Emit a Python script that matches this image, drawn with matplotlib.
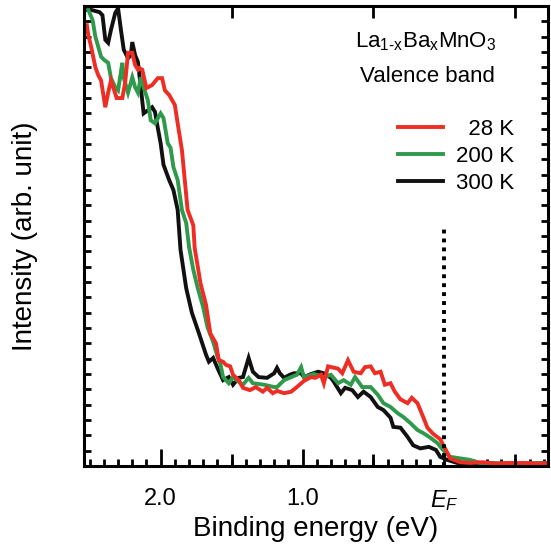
import matplotlib
matplotlib.use("Agg")
import matplotlib.pyplot as plt
from matplotlib.ticker import MultipleLocator, FixedLocator, NullFormatter

plt.rcParams['font.family'] = ['Liberation Sans', 'DejaVu Sans']
plt.rcParams['mathtext.fontset'] = 'custom'
plt.rcParams['mathtext.rm'] = 'Liberation Sans'
plt.rcParams['mathtext.it'] = 'Liberation Sans:italic'

# ---------------- data (binding energy in eV, intensity in arb. unit) -------------
e_300 = [2.52, 2.49, 2.43, 2.41, 2.39, 2.37, 2.35, 2.32, 2.30, 2.28, 2.26, 2.23, 2.21, 2.20,
         2.18, 2.16, 2.14, 2.12, 2.09, 2.06, 2.04, 2.02, 2.00, 1.98, 1.94, 1.91, 1.88, 1.86,
         1.82, 1.78, 1.73, 1.68, 1.66, 1.63, 1.60, 1.56, 1.52, 1.49, 1.45, 1.42, 1.38, 1.35,
         1.31, 1.25, 1.20, 1.18, 1.16, 1.13, 1.09, 1.06, 1.01, 0.99, 0.94, 0.89, 0.85, 0.80,
         0.78, 0.73, 0.70, 0.65, 0.61, 0.57, 0.52, 0.47, 0.43, 0.38, 0.36, 0.31, 0.26, 0.22,
         0.17, 0.11, 0.06, 0.03, -0.02, -0.09, -0.18, -0.29, -0.39, -0.50, -0.61, -0.73]
i_300 = [5.95, 5.95, 5.92, 5.88, 5.56, 5.52, 5.69, 5.91, 5.97, 5.69, 5.43, 5.32, 5.36, 5.53,
         5.36, 5.27, 4.94, 4.60, 4.64, 4.68, 4.62, 4.41, 4.21, 3.93, 3.73, 3.60, 3.34, 2.82,
         2.32, 2.00, 1.73, 1.45, 1.36, 1.41, 1.28, 1.12, 1.16, 1.06, 1.15, 1.16, 1.41, 1.23,
         1.16, 1.15, 1.21, 1.28, 1.21, 1.15, 1.19, 1.21, 1.21, 1.16, 1.20, 1.23, 1.21, 1.15,
         1.10, 0.95, 1.02, 0.99, 0.90, 0.97, 0.90, 0.77, 0.73, 0.63, 0.51, 0.50, 0.38, 0.27,
         0.23, 0.25, 0.21, 0.12, 0.08, 0.04, 0.03, 0.04, 0.03, 0.04, 0.03, 0.04]

e_200 = [2.51, 2.48, 2.46, 2.42, 2.40, 2.37, 2.35, 2.32, 2.30, 2.27, 2.26, 2.23, 2.20, 2.18,
         2.16, 2.14, 2.12, 2.09, 2.07, 2.04, 2.00, 1.98, 1.95, 1.93, 1.91, 1.88, 1.85, 1.82,
         1.80, 1.77, 1.74, 1.70, 1.67, 1.63, 1.60, 1.58, 1.56, 1.52, 1.49, 1.45, 1.42, 1.38,
         1.35, 1.27, 1.20, 1.18, 1.13, 1.08, 1.04, 1.01, 0.99, 0.92, 0.85, 0.80, 0.75, 0.71,
         0.66, 0.63, 0.58, 0.52, 0.47, 0.43, 0.38, 0.33, 0.29, 0.24, 0.19, 0.15, 0.10, 0.05,
         0.01, -0.04, -0.11, -0.18, -0.25, -0.36, -0.46, -0.57, -0.73]
i_200 = [5.95, 5.82, 5.60, 5.34, 5.30, 5.26, 5.06, 4.94, 4.90, 5.26, 5.06, 4.87, 5.07, 4.94,
         4.87, 5.07, 4.94, 4.77, 4.51, 4.47, 4.60, 4.54, 4.21, 4.15, 3.90, 3.73, 3.34, 3.17,
         2.86, 2.56, 2.33, 2.07, 1.81, 1.62, 1.43, 1.34, 1.16, 1.08, 1.16, 1.10, 1.06, 1.15,
         1.08, 1.06, 1.03, 1.03, 1.12, 1.16, 1.19, 1.29, 1.16, 1.20, 1.16, 1.19, 1.08, 1.12,
         1.06, 1.16, 1.03, 1.03, 0.93, 0.82, 0.77, 0.69, 0.64, 0.56, 0.47, 0.43, 0.37, 0.30,
         0.21, 0.12, 0.10, 0.08, 0.04, 0.03, 0.04, 0.03, 0.04]

e_28 = [2.52, 2.51, 2.49, 2.46, 2.44, 2.42, 2.39, 2.37, 2.35, 2.31, 2.27, 2.25, 2.23, 2.20,
        2.18, 2.16, 2.15, 2.13, 2.10, 2.06, 2.02, 1.99, 1.97, 1.94, 1.90, 1.88, 1.85, 1.83,
        1.81, 1.77, 1.76, 1.74, 1.72, 1.68, 1.65, 1.61, 1.59, 1.56, 1.54, 1.51, 1.49, 1.45,
        1.42, 1.37, 1.33, 1.28, 1.25, 1.21, 1.18, 1.13, 1.08, 1.04, 0.99, 0.94, 0.91, 0.87,
        0.85, 0.82, 0.75, 0.72, 0.68, 0.64, 0.59, 0.56, 0.52, 0.49, 0.45, 0.42, 0.38, 0.35,
        0.31, 0.26, 0.23, 0.19, 0.15, 0.12, 0.08, 0.03, -0.01, -0.04, -0.11, -0.18, -0.27,
        -0.36, -0.46, -0.57, -0.68, -0.73]
i_28 = [5.75, 5.62, 5.47, 5.20, 5.10, 5.03, 4.68, 4.87, 5.03, 4.80, 4.80, 5.00, 5.39, 5.39,
        5.23, 5.17, 5.19, 5.17, 4.93, 4.97, 5.06, 5.06, 4.90, 4.84, 4.71, 4.47, 4.12, 3.73,
        3.34, 3.14, 2.84, 2.62, 2.39, 2.10, 1.73, 1.60, 1.38, 1.36, 1.32, 1.30, 1.19, 1.12,
        1.02, 0.99, 1.03, 0.97, 1.02, 0.95, 0.98, 0.95, 0.97, 1.03, 1.11, 1.16, 1.15, 1.19,
        1.08, 1.30, 1.27, 1.21, 1.38, 1.23, 1.21, 1.29, 1.30, 1.21, 1.23, 1.06, 1.08, 0.97,
        0.87, 0.82, 0.89, 0.82, 0.64, 0.50, 0.42, 0.35, 0.21, 0.10, 0.05, 0.04, 0.05,
        0.03, 0.04, 0.04, 0.03, 0.04]

labels = ['\u200728 K', '200 K', '300 K']
colors = ['#ee2d24', '#2f9a4c', '#111111']
fermi_level = 0.0
fermi_line_top = 3.15
xticks = [2.0, 1.0, 0.0]
xticklabels = ['2.0', '1.0', '$E_F$']

# ---------------- figure -------------
fig = plt.figure(figsize=(5.51, 5.50), dpi=100)
ax = fig.add_axes([0.1525, 0.1527, 0.8421, 0.8363])

lw = 2.8
l300, = ax.plot(e_300, i_300, color=colors[2], lw=lw, solid_joinstyle='miter')
l200, = ax.plot(e_200, i_200, color=colors[1], lw=lw, solid_joinstyle='miter')
l28, = ax.plot(e_28, i_28, color=colors[0], lw=lw, solid_joinstyle='miter')

ax.vlines(fermi_level, 0, fermi_line_top, colors='black', lw=2.8,
          linestyles=[(0, (1, 1.3))])

ax.set_xlim(2.54, -0.73)
ax.set_ylim(0, 6)

for s in ax.spines.values():
    s.set_linewidth(2.2)

ax.xaxis.set_major_locator(FixedLocator(xticks))
ax.set_xticklabels(xticklabels, fontsize=17)
ax.xaxis.set_minor_locator(MultipleLocator(0.1))
ax.yaxis.set_major_locator(MultipleLocator(1))
ax.yaxis.set_minor_locator(MultipleLocator(0.2))
ax.yaxis.set_major_formatter(NullFormatter())

ax.tick_params(which='major', direction='in', length=12, width=2.0,
               top=True, right=True, pad=16)
ax.tick_params(which='minor', direction='in', length=5, width=2.0,
               top=True, right=True)

# medium ticks at half-integer energies
ax2 = ax.twiny()
ax2.set_xlim(ax.get_xlim())
ax2.xaxis.set_major_locator(FixedLocator([1.5, 0.5, -0.5]))
ax2.xaxis.set_major_formatter(NullFormatter())
ax2.tick_params(which='major', direction='in', length=8.5, width=2.0,
                top=True, bottom=True)
ax2.set_yticks([])
for s in ax2.spines.values():
    s.set_visible(False)

ax.set_xlabel('Binding energy (eV)', fontsize=20, labelpad=2)
ax.set_ylabel('Intensity (arb. unit)', fontsize=20, labelpad=30)

ax.text(0.737, 0.922, r'La$_{\mathrm{1}\text{-}\mathrm{x}}$Ba$_{\mathrm{x}}$MnO$_{\mathrm{3}}$',
        transform=ax.transAxes, ha='center', va='center', fontsize=16)
ax.text(0.741, 0.846, 'Valence band', transform=ax.transAxes,
        ha='center', va='center', fontsize=16)

ax.legend([l28, l200, l300], labels, loc='upper left',
          bbox_to_anchor=(0.677, 0.754), frameon=False, fontsize=16,
          handlelength=2.0, handletextpad=0.6, labelspacing=0.27,
          borderpad=0, borderaxespad=0)

fig.savefig('out.png', dpi=100)
